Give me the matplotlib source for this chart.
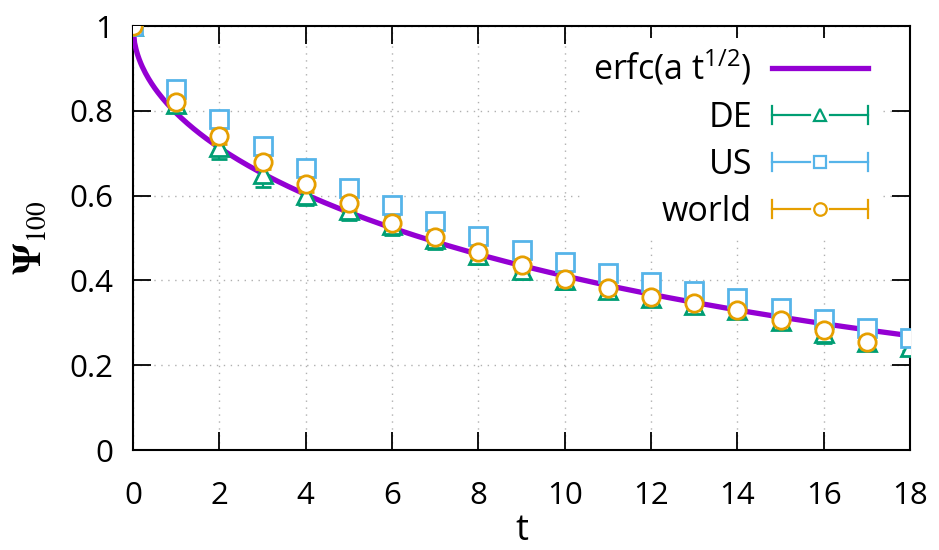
import math
import numpy as np
import matplotlib
matplotlib.use("Agg")
import matplotlib.pyplot as plt
from matplotlib.lines import Line2D
from matplotlib.legend_handler import HandlerBase

# ---------------------------------------------------------
# FONTS
# ---------------------------------------------------------
plt.rcParams["font.family"] = ["Open Sans", "DejaVu Sans"]
plt.rcParams["mathtext.fontset"] = "custom"
plt.rcParams["mathtext.rm"] = "Open Sans"
plt.rcParams["mathtext.it"] = "Open Sans:italic"

# ---------------------------------------------------------
# DATA
# ---------------------------------------------------------
T = list(range(19))
DE     = [1.000, 0.815, 0.715, 0.650, 0.602, 0.565, 0.530, 0.497, 0.460, 0.425,
          0.400, 0.378, 0.358, 0.343, 0.330, 0.305, 0.275, 0.255, 0.244]
DE_ERR = [0.000, 0.018, 0.029, 0.030, 0.024, 0.022, 0.022, 0.022, 0.022, 0.022,
          0.021, 0.020, 0.018, 0.018, 0.016, 0.020, 0.022, 0.016, 0.010]

US     = [1.000, 0.852, 0.780, 0.716, 0.664, 0.618, 0.577, 0.541, 0.505, 0.472,
          0.444, 0.418, 0.396, 0.376, 0.358, 0.335, 0.308, 0.287, 0.265]
US_ERR = [0.000, 0.019, 0.018, 0.018, 0.018, 0.018, 0.018, 0.017, 0.017, 0.017,
          0.016, 0.016, 0.016, 0.016, 0.016, 0.016, 0.016, 0.016, 0.015]

T_WORLD   = list(range(18))
WORLD     = [1.000, 0.820, 0.740, 0.680, 0.627, 0.582, 0.536, 0.502, 0.467, 0.437,
             0.403, 0.381, 0.361, 0.347, 0.331, 0.306, 0.283, 0.254]
WORLD_ERR = [0.000, 0.018, 0.018, 0.018, 0.018, 0.018, 0.018, 0.018, 0.018, 0.018,
             0.018, 0.018, 0.018, 0.018, 0.018, 0.018, 0.018, 0.018]

A_FIT = 0.184   # erfc(a t^1/2)

PURPLE = "#9400d3"
GREEN  = "#009e73"
BLUE   = "#56b4e9"
ORANGE = "#e69f00"


# ---------------------------------------------------------
# gnuplot-like legend key: |---o---|
# ---------------------------------------------------------
class GnuErrHandler(HandlerBase):
    def create_artists(self, legend, orig_handle, xdescent, ydescent,
                       width, height, fontsize, trans):
        c = orig_handle.get_color()
        m = orig_handle.get_marker()
        y = height / 2 - ydescent
        x0 = -xdescent
        x1 = x0 + width
        xm = (x0 + x1) / 2
        gap = 7.5
        cap = 6.5
        lw = 1.6
        arts = [
            Line2D([x0, xm - gap], [y, y], color=c, lw=lw),
            Line2D([xm + gap, x1], [y, y], color=c, lw=lw),
            Line2D([x0, x0], [y - cap, y + cap], color=c, lw=lw),
            Line2D([x1, x1], [y - cap, y + cap], color=c, lw=lw),
            Line2D([xm], [y], marker=m, markersize=9, color=c,
                   markerfacecolor="white", markeredgewidth=1.6, ls="none"),
        ]
        for a in arts:
            a.set_transform(trans)
        return arts


fig = plt.figure(figsize=(9.39, 5.5), dpi=100)
ax = fig.add_axes([133 / 939, 100 / 550, 777 / 939, 424 / 550])

t_fine = np.linspace(0, 18, 500)
fit = [math.erfc(A_FIT * math.sqrt(x)) for x in t_fine]
ax.plot(t_fine, fit, color=PURPLE, lw=3.8, zorder=3, solid_capstyle="butt")

err_kw = dict(ls="none", capsize=6, elinewidth=1.6, capthick=1.6,
              markersize=12.5, markeredgewidth=2.0, markerfacecolor="white", zorder=4)
ax.errorbar(T, DE, yerr=DE_ERR, color=GREEN, marker="^", **err_kw)
ax.errorbar(T, US, yerr=US_ERR, color=BLUE, marker="s", **err_kw)
ax.errorbar(T_WORLD, WORLD, yerr=WORLD_ERR, color=ORANGE, marker="o", **err_kw)

ax.set_xlim(0, 18)
ax.set_ylim(0, 1)
ax.set_xticks(range(0, 19, 2))
ax.set_yticks([0, 0.2, 0.4, 0.6, 0.8, 1.0])
ax.set_yticklabels(["0", "0.2", "0.4", "0.6", "0.8", "1"])

ax.tick_params(direction="in", length=13, width=1.3, top=True, right=True,
               labelsize=22.5, colors="black")
ax.tick_params(axis="y", pad=14)
ax.tick_params(axis="x", pad=22)
for s in ax.spines.values():
    s.set_linewidth(1.5)

ax.grid(True, color="#b0b0b0", linestyle=(0, (1, 4)), linewidth=1.0)
ax.set_axisbelow(True)

ax.set_xlabel("t", fontsize=26, labelpad=2)
ax.set_ylabel(r"$\mathbf{\Psi}_{100}$", fontsize=28, labelpad=14, math_fontfamily="stix")

# legend
h_fit = Line2D([], [], color=PURPLE, lw=3.8)
h_de = Line2D([], [], color=GREEN, marker="^")
h_us = Line2D([], [], color=BLUE, marker="s")
h_wo = Line2D([], [], color=ORANGE, marker="o")
hnd = GnuErrHandler()
leg = ax.legend([h_fit, h_de, h_us, h_wo],
                [r"erfc(a t$^{\mathrm{1/2}}$)", "DE", "US", "world"],
                handler_map={h_de: hnd, h_us: hnd, h_wo: hnd},
                loc="upper right", bbox_to_anchor=(0.974, 1.0),
                markerfirst=False, fontsize=24.5,
                handlelength=2.8, handletextpad=0.6, labelspacing=0.38,
                borderpad=0.3, borderaxespad=0.35,
                frameon=True, fancybox=False, framealpha=1,
                facecolor="white", edgecolor="none")
leg.set_zorder(2)

fig.savefig("out.png", dpi=100)
